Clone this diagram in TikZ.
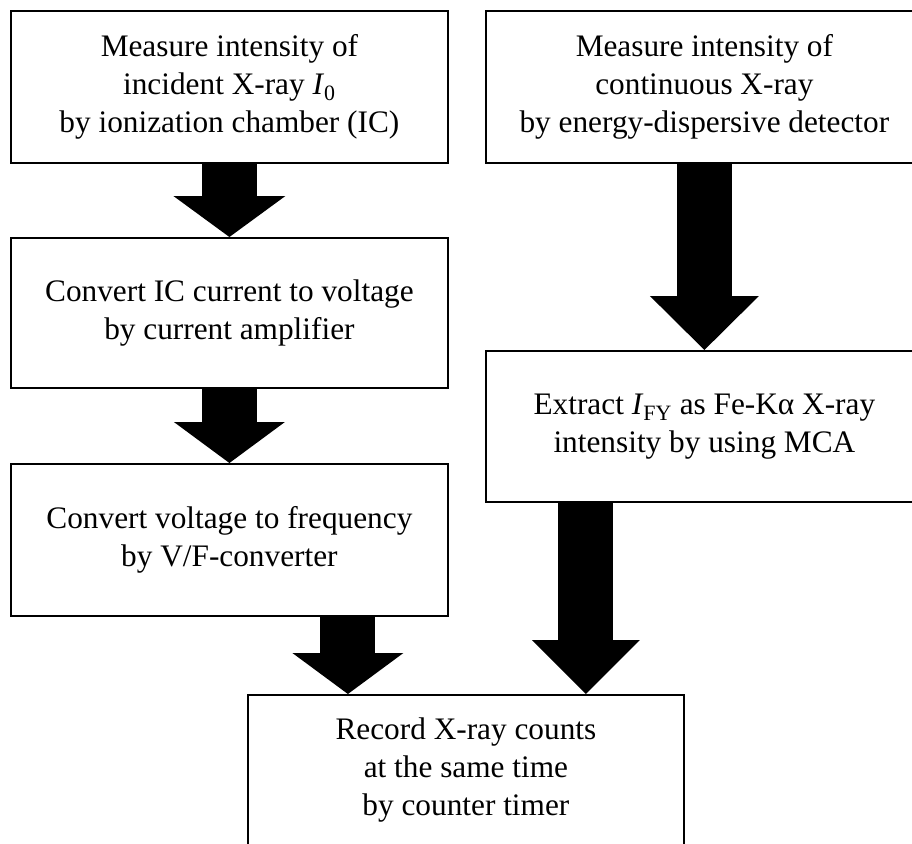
\documentclass[tikz,border=0pt]{standalone}
\usepackage{fontspec}
\setmainfont{Liberation Serif}
\usetikzlibrary{arrows.meta}

\tikzset{
  stepbox/.style={draw, line width=1.8pt, rectangle, anchor=north west,
    minimum width=437pt, minimum height=152pt, inner sep=0pt, align=center,
    font=\fontsize{31.3}{38}\selectfont},
  bigarrow/.style 2 args={line width=55pt,
    -{Triangle[length=#1, width=#2, line width=0pt]}}
}

\begin{document}
\begin{tikzpicture}
    \def\x{1pt}
    \def\y{-1pt}
    \useasboundingbox (0,0) rectangle (912*\x, 843*\y);
    \clip (0,0) rectangle (912*\x, 843*\y);
    \node[stepbox] (A0_0) at (10*\x, 10*\y) {Measure intensity of\\incident X-ray \textit{I}\textsubscript{0}\\by ionization chamber (IC)};
    \node[stepbox] (A0_1) at (485*\x, 10*\y) {Measure intensity of\\continuous X-ray\\by energy-dispersive detector};
    \node[stepbox, minimum height=150pt] (A1_0) at (10*\x, 237*\y) {Convert IC current to voltage\\by current amplifier};
    \node[stepbox, minimum height=151pt] (A1_1) at (485*\x, 350*\y) {Extract \textit{I}\textsubscript{FY} as Fe-Kα X-ray\\intensity by using MCA};
    \node[stepbox] (A2_0) at (10*\x, 463*\y) {Convert voltage to frequency\\by V/F-converter};
    \node[stepbox, minimum width=436pt, minimum height=150pt] (A3_0) at (247*\x, 694*\y) {Record X-ray counts\\at the same time\\by counter timer};
    \coordinate (A3_0w) at ([xshift=-118pt]A3_0.north);
    \coordinate (A3_0e) at ([xshift=120pt]A3_0.north);
    \path (A0_0) edge [bigarrow={41pt}{112pt}] (A1_0);
    \path (A1_0) edge [bigarrow={41pt}{111pt}] (A2_0);
    \path (A0_1.south -| A1_1.north) edge [bigarrow={54pt}{109pt}] (A1_1.north);
    \path (A2_0.south -| A3_0w) edge [bigarrow={41pt}{111pt}] (A3_0w);
    \path (A1_1.south -| A3_0e) edge [bigarrow={54pt}{108pt}] (A3_0e);
  \end{tikzpicture}
\end{document}
